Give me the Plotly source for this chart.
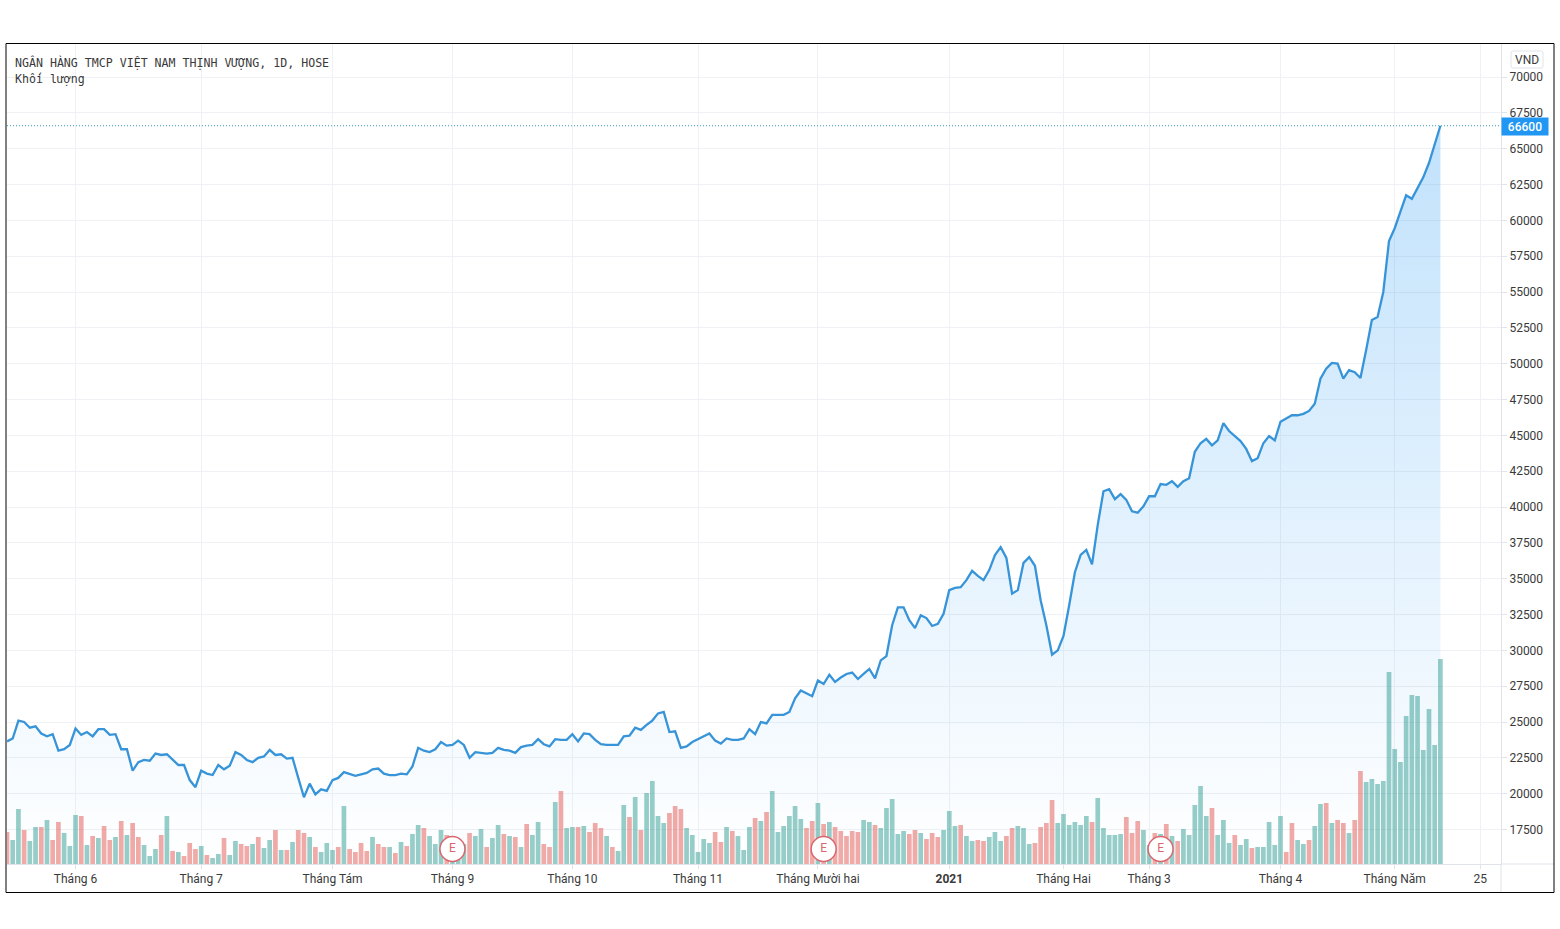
import plotly.graph_objects as go

# daily close, VND
close = [
    23650, 23850, 25100, 25000, 24600, 24700, 24200, 24000, 24150, 23000,
    23100, 23400, 24550, 24100, 24300, 24000, 24500, 24500, 24100, 24150,
    23100, 23100, 21600, 22200, 22350, 22300, 22800, 22700, 22750, 22350,
    22000, 22000, 20950, 20450, 21600, 21400, 21300, 22000, 21700, 21950,
    22900, 22700, 22350, 22200, 22500, 22600, 23050, 22700, 22750, 22450,
    22500, 21100, 19750, 20700, 19950, 20300, 20200, 20950, 21100, 21500,
    21350, 21250, 21350, 21450, 21700, 21750, 21400, 21300, 21300, 21400,
    21350, 21900, 23200, 23000, 22900, 23100, 23600, 23350, 23400, 23700,
    23400, 22500, 22900, 22850, 22800, 22850, 23200, 23050, 23000, 22850,
    23250, 23350, 23400, 23800, 23450, 23300, 23800, 23750, 23750, 24150,
    23650, 24200, 24150, 23750, 23450, 23400, 23400, 23400, 24000, 24050,
    24600, 24450, 24800, 25100, 25600, 25700, 24300, 24350, 23200, 23300,
    23600, 23800, 24000, 24200, 23700, 23500, 23850, 23750, 23750, 23850,
    24500, 24150, 25000, 24900, 25500, 25500, 25500, 25700, 26650, 27200,
    27000, 26800, 27900, 27650, 28300, 27800, 28100, 28350, 28450, 28000,
    28350, 28700, 28050, 29300, 29600, 31750, 33000, 33000, 32100, 31550,
    32450, 32250, 31700, 31850, 32550, 34200, 34350, 34400, 34900, 35550,
    35200, 34900, 35600, 36650, 37200, 36450, 33950, 34200, 36100, 36500,
    35900, 33500, 31750, 29700, 30000, 31000, 33150, 35450, 36650, 37000,
    36000, 38750, 41100, 41250, 40550, 40900, 40500, 39700, 39600, 40050,
    40750, 40750, 41600, 41550, 41800, 41400, 41800, 42000, 43850, 44450,
    44750, 44300, 44650, 45850, 45300, 44950, 44600, 44050, 43200, 43400,
    44450, 44950, 44650, 45950, 46200, 46400, 46400, 46500, 46700, 47200,
    48950, 49650, 50050, 50000, 48950, 49550, 49400, 49000, 50950, 53050,
    53250, 55000, 58550, 59450, 60600, 61750, 61500, 62250, 63000, 64000,
    65250, 66600,
]

# volume, no scale in the picture so arbitrary units
volume = [
    96, 72, 165, 102, 69, 111, 111, 132, 72, 126,
    93, 54, 147, 144, 57, 84, 78, 114, 72, 81,
    129, 87, 123, 81, 57, 24, 45, 87, 144, 39,
    36, 24, 63, 45, 54, 27, 18, 30, 78, 27,
    69, 60, 54, 60, 81, 48, 72, 102, 42, 42,
    66, 102, 93, 81, 51, 36, 63, 42, 51, 174,
    45, 36, 63, 39, 81, 60, 51, 51, 33, 66,
    54, 90, 117, 108, 84, 60, 102, 87, 45, 40,
    60, 93, 84, 105, 51, 78, 117, 90, 84, 81,
    51, 120, 87, 126, 60, 51, 186, 219, 108, 111,
    111, 114, 96, 123, 108, 84, 51, 39, 177, 141,
    201, 102, 213, 249, 144, 123, 153, 174, 165, 108,
    87, 36, 75, 63, 96, 66, 111, 99, 84, 42,
    111, 138, 129, 156, 219, 96, 114, 144, 174, 135,
    108, 129, 183, 120, 126, 111, 99, 84, 99, 96,
    132, 126, 117, 108, 168, 195, 90, 99, 90, 102,
    93, 75, 93, 81, 102, 159, 114, 117, 84, 69,
    72, 69, 81, 96, 69, 84, 108, 114, 108, 60,
    63, 111, 123, 192, 123, 150, 117, 126, 117, 144,
    126, 198, 108, 87, 87, 90, 141, 93, 129, 102,
    57, 93, 90, 120, 84, 69, 105, 87, 177, 234,
    144, 168, 87, 132, 63, 87, 57, 75, 48, 51,
    51, 126, 57, 144, 36, 123, 72, 60, 72, 114,
    180, 183, 123, 132, 123, 93, 132, 279, 246, 255,
    240, 249, 576, 345, 306, 444, 507, 504, 342, 465,
    357, 615,
]

# G = up day, R = down day
direction = (
    "RGGRGGRGRR" "GGGRGRGRRG" "RGRRGGGRGR" "GRRRGRGGRG" "GRRGRGGRGR"
    "GRRGRGGGRG" "RRRRGRRGRG" "RGGRGGGRGG" "GRGGRGGRGR" "GRGGRRGRGG"
    "RGRRRGRGGR" "GRGGGGRRRG" "GGGGRRGRGG" "GRGRGGGGGG" "RRGRGRRRRR"
    "GGRGGGGGRR" "GRRRGGGRGG" "RRGGGRRGGG" "RRRRGGGGGG" "RGGGGGRRRG"
    "GRGRGRGGGG" "GRGGGRGGRG" "GGGGRRGGRG" "GRGRRGRRGG" "GGGGGGGGGG"
    "GG"
)

tick_pos = [12, 34, 57, 78, 99, 121, 142, 165, 185, 200, 223, 243, 258]
tick_text = ["Tháng 6", "Tháng 7", "Tháng Tám", "Tháng 9", "Tháng 10", "Tháng 11",
             "Tháng Mười hai", "<b>2021</b>", "Tháng Hai", "Tháng 3", "Tháng 4",
             "Tháng Năm", "25"]
price_ticks = list(range(17500, 72500, 2500))
earnings_days = [78, 143, 202]
earnings_level = [45, 45, 45]

assert len(close) == len(volume) == len(direction) == 252

W, H = 1560, 929
L, R, T, B = 7, 1501, 44, 864
GRID = "#eff1f4"
AXIS = "#e0e3eb"
TEXT = "#3a3a3a"
BLUE = "#2196f3"
LINE = "#3794d8"


def px(x):
    return (x - L) / (R - L)


def py(y):
    return (B - y) / (B - T)


days = list(range(len(close)))
bar_colors = ["rgba(45,155,145,0.5)" if d == "G" else "rgba(225,85,80,0.5)" for d in direction]

fig = go.Figure()
fig.add_trace(go.Scatter(
    x=days, y=close, mode="lines", line=dict(color=LINE, width=2.3),
    fill="tozeroy",
    fillgradient=dict(type="vertical", start=66600, stop=15093,
                      colorscale=[[0, "rgba(33,150,243,0.28)"], [1, "rgba(33,150,243,0.0)"]]),
    hoverinfo="skip",
))
fig.add_trace(go.Bar(x=days, y=volume, marker=dict(color=bar_colors, line_width=0),
                     width=0.82, yaxis="y2", hoverinfo="skip"))
fig.add_trace(go.Scatter(
    x=earnings_days, y=earnings_level, yaxis="y2", mode="markers+text",
    marker=dict(size=25, color="white", line=dict(color="#d9666e", width=1.5)),
    text=["E"] * len(earnings_days), textposition="middle center",
    textfont=dict(family="Roboto", size=12, color="#d9666e"), hoverinfo="skip",
))

vnd_box = (f"M {px(1513)} {py(51)} L {px(1541)} {py(51)} Q {px(1543)} {py(51)} {px(1543)} {py(53)} "
           f"L {px(1543)} {py(66)} Q {px(1543)} {py(68)} {px(1541)} {py(68)} "
           f"L {px(1513)} {py(68)} Q {px(1511)} {py(68)} {px(1511)} {py(66)} "
           f"L {px(1511)} {py(53)} Q {px(1511)} {py(51)} {px(1513)} {py(51)} Z")

fig.update_layout(
    width=W, height=H, showlegend=False, paper_bgcolor="white", plot_bgcolor="white",
    margin=dict(l=L, r=W - R, t=T, b=H - B),
    font=dict(family="Roboto", size=12, color=TEXT),
    xaxis=dict(range=[0.0, (R - 6.67) / 5.712], tickmode="array", tickvals=tick_pos, ticktext=tick_text,
               showgrid=True, gridcolor=GRID, gridwidth=1, zeroline=False, showline=True, linecolor=AXIS,
               ticks="outside", ticklen=4, tickcolor=AXIS),
    yaxis=dict(side="right", range=[15093, 72302], tickmode="array", tickvals=price_ticks,
               ticktext=[str(v) for v in price_ticks], showgrid=True, gridcolor=GRID, gridwidth=1,
               zeroline=False, showline=True, linecolor=AXIS, ticks="outside", ticklen=5, tickcolor=AXIS),
    yaxis2=dict(overlaying="y", side="right", range=[0, 2460], visible=False),
    shapes=[
        dict(type="line", xref="paper", yref="y", x0=0, x1=1, y0=close[-1], y1=close[-1],
             line=dict(color="#3a9bb8", width=1, dash="1px,2px")),
        dict(type="line", xref="paper", yref="paper", x0=1, x1=1, y0=py(892), y1=0,
             line=dict(color=AXIS, width=1)),
        dict(type="line", xref="paper", yref="paper", x0=1, x1=px(1554), y0=0, y1=0,
             line=dict(color=AXIS, width=1)),
        dict(type="rect", xref="paper", yref="paper", x0=px(6), x1=px(1554), y0=py(892.5), y1=py(43.5),
             line=dict(color="black", width=1)),
        dict(type="path", xref="paper", yref="paper", path=vnd_box, line=dict(color=AXIS, width=1)),
    ],
    annotations=[
        dict(xref="paper", yref="paper", x=px(13), y=py(62), xanchor="left", yanchor="middle", showarrow=False,
             text="NGÂN HÀNG TMCP VIỆT NAM THỊNH VƯỢNG, 1D, HOSE",
             font=dict(family="DejaVu Sans Mono", size=11.6, color=TEXT)),
        dict(xref="paper", yref="paper", x=px(13), y=py(79), xanchor="left", yanchor="middle", showarrow=False,
             text="Khối lượng", font=dict(family="DejaVu Sans Mono", size=11.6, color=TEXT)),
        dict(xref="paper", yref="paper", x=1, y=py(126.5), xanchor="left", yanchor="middle", showarrow=False,
             text=f"{close[-1]}", width=46, height=17, bgcolor=BLUE, borderpad=0,
             font=dict(family="Roboto", size=12, color="white", weight=500)),
        dict(xref="paper", yref="paper", x=px(1527), y=py(59.5), xanchor="center", yanchor="middle", showarrow=False,
             text="VND", font=dict(family="Roboto", size=12, color=TEXT)),
    ],
)

fig.write_html("out.html", config=dict(displayModeBar=False), post_script="document.body.style.margin='0';")
